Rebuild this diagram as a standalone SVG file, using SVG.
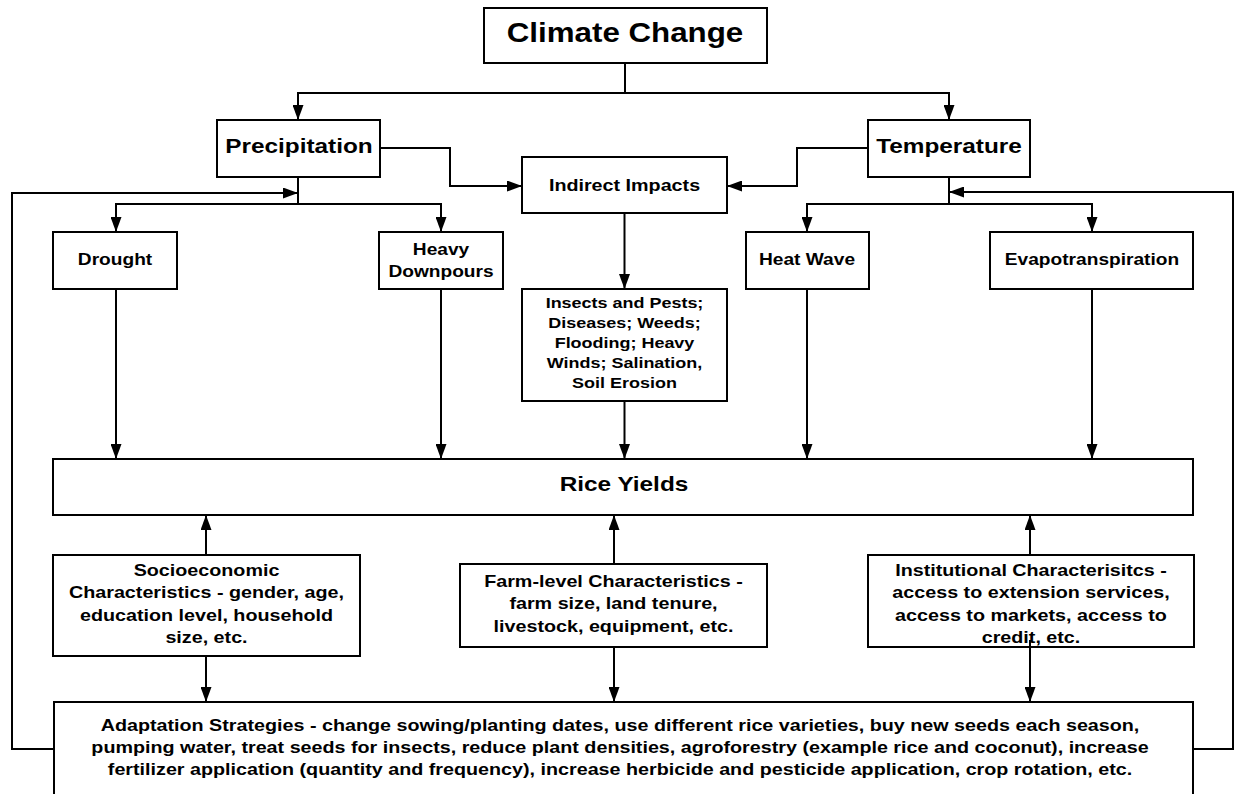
<svg xmlns="http://www.w3.org/2000/svg" width="1238" height="794" viewBox="0 0 1238 794">
<defs>
<marker id="ah" markerUnits="userSpaceOnUse" markerWidth="16" markerHeight="11" refX="15" refY="5.5" orient="auto">
<path d="M0,0 L15,5.5 L0,11 z" fill="#000"/>
</marker>
<style>
.box{fill:#fff;stroke:#000;stroke-width:2}
.c{fill:none;stroke:#000;stroke-width:2}
.a{marker-end:url(#ah)}
text{font-family:"Liberation Sans",Arial,sans-serif;font-weight:bold;fill:#000;text-anchor:middle}
.f27{font-size:27px}.f21{font-size:21px}.f17{font-size:17px}.f16{font-size:16.5px}.f15{font-size:15.5px}
</style>
</defs>
<rect width="1238" height="794" fill="#fff"/>
<g id="connectors">
<path class="c a" d="M625,63 V93 H298 V120"/>
<path class="c a" d="M625,93 H949 V120"/>
<path class="c a" d="M380,148 H450 V186 H522"/>
<path class="c a" d="M868,148 H797 V186 H727"/>
<path class="c a" d="M298,177 V204 H116 V232"/>
<path class="c a" d="M298,204 H441 V232"/>
<path class="c a" d="M949,177 V204 H807 V232"/>
<path class="c a" d="M949,204 H1092 V232"/>
<path class="c a" d="M624.5,213 V289"/>
<path class="c a" d="M116,289 V459"/>
<path class="c a" d="M441,289 V459"/>
<path class="c a" d="M624.5,401 V459"/>
<path class="c a" d="M807,289 V459"/>
<path class="c a" d="M1092,289 V459"/>
<path class="c a" d="M206,555 V515"/>
<path class="c a" d="M614,564 V515"/>
<path class="c a" d="M1030,555 V515"/>
<path class="c a" d="M206,656 V702"/>
<path class="c a" d="M614,647 V702"/>
<path class="c a" d="M54,749 H12 V193 H298"/>
<path class="c a" d="M1193,749 H1233 V192 H949"/>
</g>
<g id="n-climate"><rect class="box" x="484" y="8" width="283" height="55"/><text class="f27" transform="matrix(1.16 0 0 1 625 0)" x="0" y="42">Climate Change</text></g>
<g id="n-precip"><rect class="box" x="217" y="120" width="163" height="57"/><text class="f21" transform="matrix(1.16 0 0 1 299 0)" x="0" y="153">Precipitation</text></g>
<g id="n-temp"><rect class="box" x="868" y="120" width="162" height="57"/><text class="f21" transform="matrix(1.16 0 0 1 949 0)" x="0" y="153">Temperature</text></g>
<g id="n-indirect"><rect class="box" x="522" y="157" width="205" height="56"/><text class="f17" transform="matrix(1.16 0 0 1 624.5 0)" x="0" y="191">Indirect Impacts</text></g>
<g id="n-drought"><rect class="box" x="53" y="232" width="124" height="57"/><text class="f16" transform="matrix(1.16 0 0 1 115 0)" x="0" y="265">Drought</text></g>
<g id="n-heavy"><rect class="box" x="379" y="232" width="124" height="57"/><text class="f16" transform="matrix(1.16 0 0 1 441 0)" x="0" y="255">Heavy<tspan x="0" y="277">Downpours</tspan></text></g>
<g id="n-heat"><rect class="box" x="746" y="232" width="123" height="57"/><text class="f16" transform="matrix(1.16 0 0 1 807 0)" x="0" y="265">Heat Wave</text></g>
<g id="n-evap"><rect class="box" x="990" y="232" width="203" height="57"/><text class="f16" transform="matrix(1.16 0 0 1 1092 0)" x="0" y="265">Evapotranspiration</text></g>
<g id="n-insects"><rect class="box" x="522" y="289" width="205" height="112"/><text class="f15" transform="matrix(1.16 0 0 1 624.5 0)" x="0" y="308">Insects and Pests;<tspan x="0" y="328">Diseases; Weeds;</tspan><tspan x="0" y="348">Flooding; Heavy</tspan><tspan x="0" y="368">Winds; Salination,</tspan><tspan x="0" y="388">Soil Erosion</tspan></text></g>
<g id="n-rice"><rect class="box" x="53" y="459" width="1140" height="56"/><text class="f21" transform="matrix(1.16 0 0 1 624 0)" x="0" y="491">Rice Yields</text></g>
<g id="n-socio"><rect class="box" x="53" y="555" width="307" height="101"/><text class="f17" transform="matrix(1.16 0 0 1 206.5 0)" x="0" y="576">Socioeconomic<tspan x="0" y="598">Characteristics - gender, age,</tspan><tspan x="0" y="621">education level, household</tspan><tspan x="0" y="643">size, etc.</tspan></text></g>
<g id="n-farm"><rect class="box" x="460" y="564" width="307" height="83"/><text class="f17" transform="matrix(1.16 0 0 1 613.5 0)" x="0" y="587">Farm-level Characteristics -<tspan x="0" y="609">farm size, land tenure,</tspan><tspan x="0" y="632">livestock, equipment, etc.</tspan></text></g>
<g id="n-inst"><rect class="box" x="868" y="555" width="326" height="92"/><text class="f17" transform="matrix(1.16 0 0 1 1031 0)" x="0" y="576">Institutional Characterisitcs -<tspan x="0" y="598">access to extension services,</tspan><tspan x="0" y="621">access to markets, access to</tspan><tspan x="0" y="643">credit, etc.</tspan></text></g>
<path class="c a" d="M1030,640 V702"/>
<g id="n-adapt"><rect class="box" x="54" y="702" width="1139" height="110"/><text class="f17" transform="matrix(1.16 0 0 1 620 0)" x="0" y="731">Adaptation Strategies - change sowing/planting dates, use different rice varieties, buy new seeds each season,<tspan x="0" y="753">pumping water, treat seeds for insects, reduce plant densities, agroforestry (example rice and coconut), increase</tspan><tspan x="0" y="775">fertilizer application (quantity and frequency), increase herbicide and pesticide application, crop rotation, etc.</tspan></text></g>
</svg>
